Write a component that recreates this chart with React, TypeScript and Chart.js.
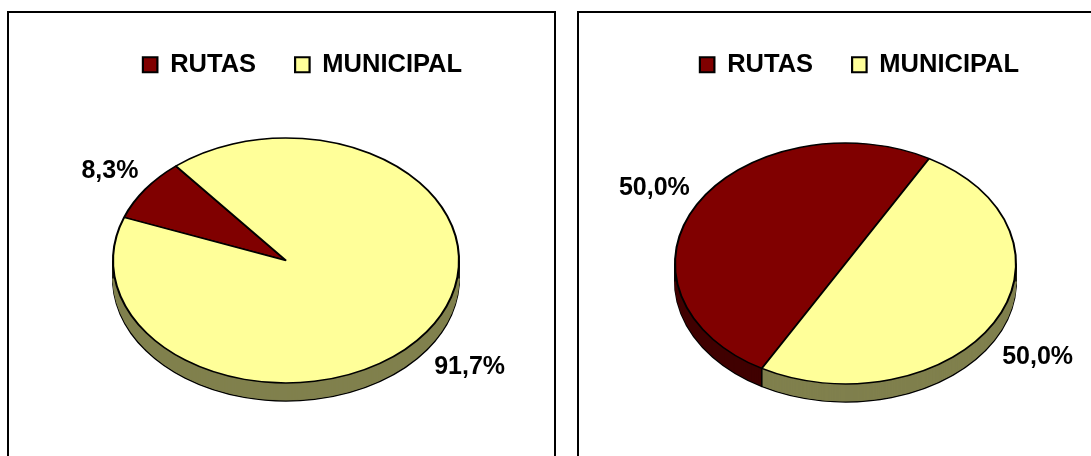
import React, { useEffect, useRef } from "react";
import { Chart, registerables } from "chart.js";

Chart.register(...registerables);

const categories = ["RUTAS", "MUNICIPAL"];
const leftValues = [8.3, 91.7];
const rightValues = [50.0, 50.0];
const topColors = ["#800000", "#FFFF99"];
const wallColors = ["#400000", "#80804D"];
const FONT = '"Liberation Sans", Arial, sans-serif';

const pie3d = (
  cx: number,
  cy: number,
  rx: number,
  ry: number,
  depth: number,
  nudges: [number, number][],
) => ({
  id: "pie3d",
  beforeDatasetsDraw(chart: any) {
    const ctx = chart.ctx;
    const arcs = chart.getDatasetMeta(0).data;
    const { x, y, outerRadius } = arcs[0];
    const sx = rx / outerRadius;
    const sy = ry / outerRadius;
    const place = (dy: number) => {
      ctx.setTransform(sx, 0, 0, sy, cx - x * sx, cy + dy - y * sy);
    };
    const base = {
      borderAlign: "center", borderDash: [], borderDashOffset: 0, borderJoinStyle: "round",
      borderRadius: 0, circular: true, offset: 0, spacing: 0, selfJoin: false,
    };
    for (let d = depth; d >= 1; d--) {
      place(d);
      arcs.forEach((arc: any, i: number) => {
        const saved = arc.options;
        arc.options = {
          ...base,
          backgroundColor: wallColors[i],
          borderColor: d === depth ? "#000000" : wallColors[i],
          borderWidth: d === depth ? 2.2 : 1,
        };
        arc.draw(ctx);
        arc.options = saved;
      });
    }
    ctx.setTransform(1, 0, 0, 1, 0, 0);
    ctx.save();
    ctx.strokeStyle = "#000000";
    ctx.lineWidth = 1.5;
    const edge = (px: number, py: number) => {
      ctx.beginPath();
      ctx.moveTo(px, py);
      ctx.lineTo(px, py + depth);
      ctx.stroke();
    };
    edge(cx - rx, cy);
    edge(cx + rx, cy);
    arcs.forEach((arc: any) => {
      const a = arc.startAngle;
      if (Math.sin(a) > 0) edge(cx + rx * Math.cos(a), cy + ry * Math.sin(a));
    });
    ctx.restore();
    ctx.save();
    place(0);
  },
  afterDatasetsDraw(chart: any) {
    const ctx = chart.ctx;
    ctx.restore();
    ctx.setTransform(1, 0, 0, 1, 0, 0);
    const arcs = chart.getDatasetMeta(0).data;
    const values = chart.data.datasets[0].data;
    ctx.save();
    ctx.fillStyle = "#000000";
    ctx.font = `bold 25px ${FONT}`;
    ctx.textAlign = "center";
    ctx.textBaseline = "middle";
    arcs.forEach((arc: any, i: number) => {
      const mid = (arc.startAngle + arc.endAngle) / 2;
      const s = Math.sin(mid);
      const lx = cx + 1.29 * rx * Math.cos(mid) + nudges[i][0];
      const ly = cy + 1.27 * ry * s + (s > 0 ? depth : 0) + nudges[i][1];
      ctx.fillText(values[i].toFixed(1).replace(".", ",") + "%", lx, ly);
    });
    ctx.restore();
  },
});

type PieProps = {
  values: number[];
  rotation: number;
  left: number;
  width: number;
  center: [number, number];
  radii: [number, number];
  nudges: [number, number][];
};

const CANVAS_TOP = 13;

function Pie({ values, rotation, left, width, center, radii, nudges }: PieProps) {
  const ref = useRef<HTMLCanvasElement>(null);
  useEffect(() => {
    const chart = new Chart(ref.current as HTMLCanvasElement, {
      type: "pie",
      data: {
        labels: categories,
        datasets: [{
          data: values,
          backgroundColor: topColors,
          borderColor: "#000000",
          borderWidth: 2.2,
          clip: false,
        } as any],
      },
      options: {
        responsive: false,
        animation: false,
        rotation,
        events: [],
        layout: { padding: 0 },
        plugins: {
          tooltip: { enabled: false },
          legend: {
            display: true,
            position: "top",
            labels: {
              color: "#000000",
              boxWidth: 14.5,
              boxHeight: 15,
              padding: 39,
              font: { family: FONT, size: 25.5, weight: "bold" },
            },
          },
        },
      },
      plugins: [pie3d(center[0] - left, center[1] - CANVAS_TOP, radii[0], radii[1], 18, nudges)],
    } as any);
    return () => chart.destroy();
  }, []);
  return (
    <canvas
      ref={ref}
      width={width}
      height={443}
      style={{ position: "absolute", left, top: CANVAS_TOP, display: "block" }}
    />
  );
}

const panel = (left: number, width: number): React.CSSProperties => ({
  position: "absolute",
  left,
  top: 11,
  width,
  height: 600,
  border: "2px solid #000000",
  boxSizing: "border-box",
});

export default function App() {
  return (
    <div style={{ position: "fixed", left: 0, top: 0, width: 1091, height: 456, overflow: "hidden", background: "#ffffff" }}>
      <div style={panel(7, 549)} />
      <div style={panel(577, 700)} />
      <Pie values={leftValues} rotation={290.6} left={8} width={589} center={[286, 260.5]} radii={[173, 122.5]} nudges={[[5.5, 1], [2, -2]]} />
      <Pie values={rightValues} rotation={209.4} left={578} width={563} center={[845.5, 263.5]} radii={[170.5, 120.5]} nudges={[[0.5, 0], [0.5, 0]]} />
    </div>
  );
}
